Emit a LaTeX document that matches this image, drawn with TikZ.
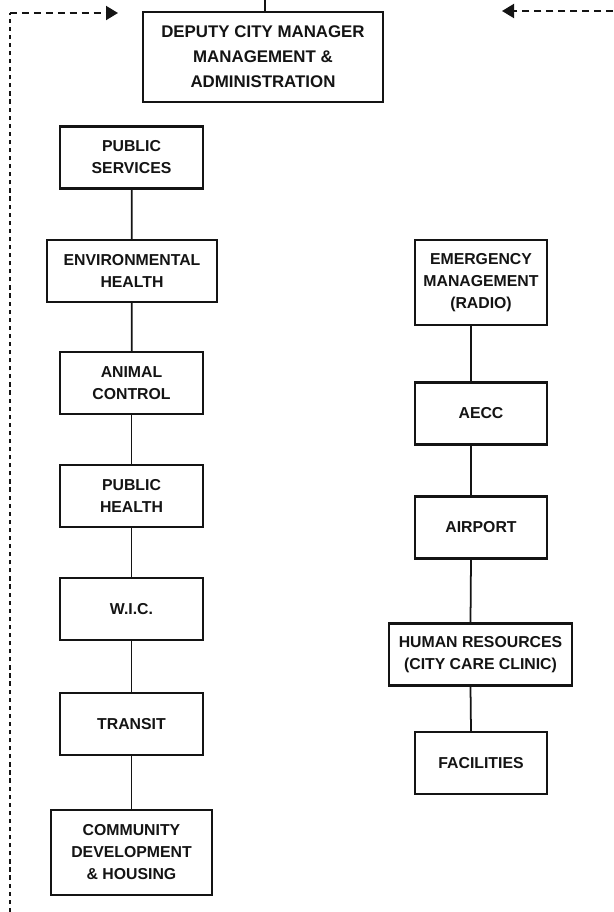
\documentclass[tikz,border=0pt]{standalone}
\usepackage{fontspec}
\setmainfont{Liberation Sans}
\usepackage{tikz}
\usetikzlibrary{arrows.meta}
\definecolor{orgInk}{HTML}{141414}
\tikzset{
  org diagram/.style={font=\fontsize{9.0}{12.5}\selectfont\bfseries, text=orgInk,
    line join=miter},
  org box/.style={draw=orgInk, fill=white, line width=1.2pt,
    align=center, inner sep=2pt, minimum width=2.86cm, minimum height=1.24cm},
  org head box/.style={org box, minimum width=4.8cm, minimum height=1.8cm,
    font=\fontsize{9.6}{14.2}\selectfont\bfseries},
  org link/.style={draw=orgInk, line width=1pt},
  org dashed arrow/.style={draw=orgInk, line width=1.1pt,
    dash pattern=on 4pt off 2.8pt, -{Triangle[length=0.24cm,width=0.28cm]}},
  org dashed line/.style={draw=orgInk, line width=1.1pt,
    dash pattern=on 2.4pt off 2.2pt}
}

\begin{document}
\begin{tikzpicture}[org diagram]
\useasboundingbox (0,0) rectangle (12.26,-18.24);
% head office and the feeds into it
\node[org head box] (dcm) at (5.26,-1.14) {DEPUTY CITY MANAGER\\MANAGEMENT \&\\ADMINISTRATION};
\coordinate (feedIn) at (5.3,0);
\draw[org link] (dcm.north -| feedIn) -- (feedIn);
\coordinate (leftCorner) at (0.2,-0.26);
\coordinate (leftEnd) at (0.2,-18.24);
\coordinate (leftTip) at (2.36,-0.26);
\coordinate (rightStart) at (12.26,-0.22);
\coordinate (rightTip) at (10.04,-0.22);
\draw[org dashed line] (leftEnd) -- (leftCorner);
\draw[org dashed arrow] (leftCorner) -- (leftTip);
\draw[org dashed arrow] (rightStart) -- (rightTip);
% left column
\node[org box] (pubserv) at (2.63,-3.15) {PUBLIC\\SERVICES};
\node[org box, minimum width=3.4cm] (envhealth) at (2.64,-5.42) {ENVIRONMENTAL\\HEALTH};
\node[org box] (animal) at (2.63,-7.66) {ANIMAL\\CONTROL};
\node[org box] (pubhealth) at (2.63,-9.92) {PUBLIC\\HEALTH};
\node[org box] (wic) at (2.63,-12.18) {W.I.C.};
\node[org box] (transit) at (2.63,-14.48) {TRANSIT};
\node[org box, minimum width=3.22cm, minimum height=1.7cm] (commdev) at (2.63,-17.05) {COMMUNITY\\DEVELOPMENT\\\& HOUSING};
\foreach \a/\b in {pubserv/envhealth, envhealth/animal, animal/pubhealth,
    pubhealth/wic, wic/transit, transit/commdev}
  \draw[org link] (\a) -- (\b);
% right column
\node[org box, minimum width=2.64cm, minimum height=1.7cm] (emerg) at (9.62,-5.65) {EMERGENCY\\MANAGEMENT\\(RADIO)};
\node[org box, minimum width=2.64cm] (aecc) at (9.62,-8.27) {AECC};
\node[org box, minimum width=2.64cm] (airport) at (9.62,-10.55) {AIRPORT};
\node[org box, minimum width=3.66cm] (hr) at (9.61,-13.09) {HUMAN RESOURCES\\(CITY CARE CLINIC)};
\node[org box, minimum width=2.64cm] (facil) at (9.62,-15.26) {FACILITIES};
\foreach \a/\b in {emerg/aecc, aecc/airport, airport/hr, hr/facil}
  \draw[org link] ([xshift=-0.2cm]\a.south) -- ([xshift=-0.2cm]\b.north);
\end{tikzpicture}
\end{document}
